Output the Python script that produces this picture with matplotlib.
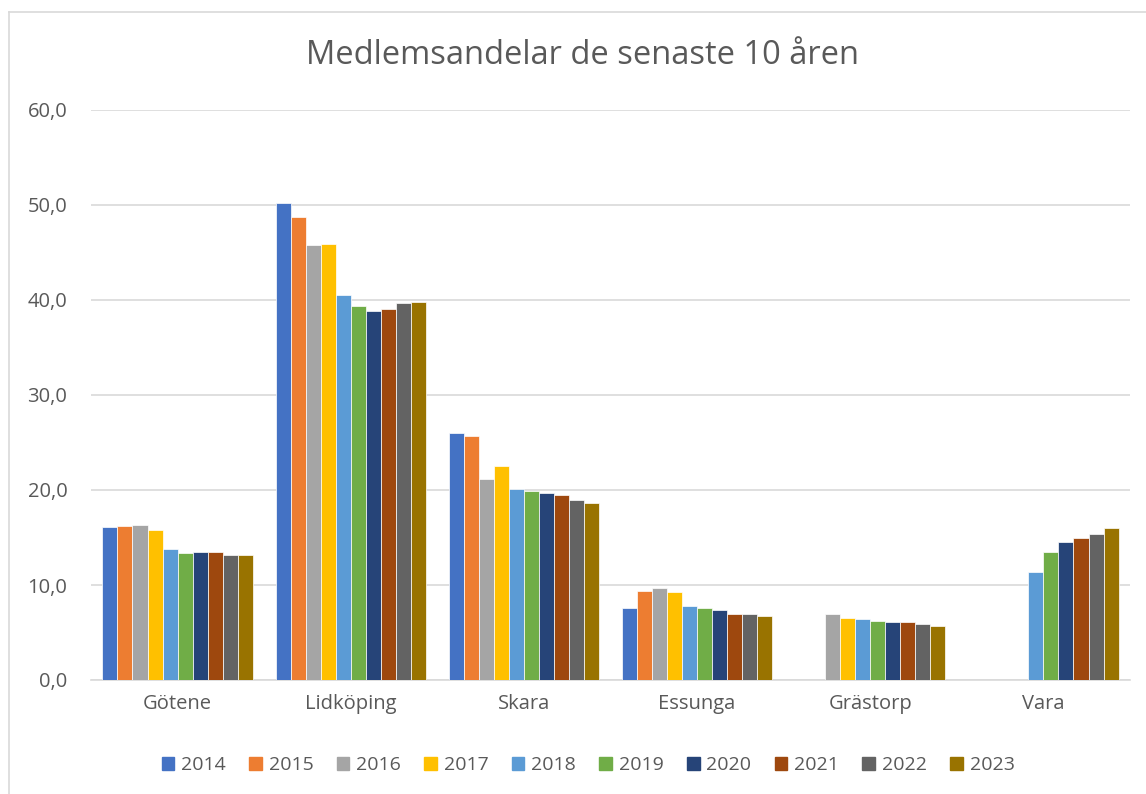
import numpy as np
import matplotlib
matplotlib.use("Agg")
import matplotlib.pyplot as plt
from matplotlib.patches import Rectangle
from matplotlib.lines import Line2D

categories = ["Götene", "Lidköping", "Skara", "Essunga", "Grästorp", "Vara"]
years = ["2014", "2015", "2016", "2017", "2018", "2019", "2020", "2021", "2022", "2023"]
nan = np.nan
v2014 = [16.1, 50.2, 26.0, 7.6, nan, nan]
v2015 = [16.2, 48.7, 25.7, 9.4, nan, nan]
v2016 = [16.3, 45.8, 21.2, 9.7, 7.0, nan]
v2017 = [15.8, 45.9, 22.5, 9.3, 6.5, nan]
v2018 = [13.8, 40.5, 20.1, 7.8, 6.4, 11.4]
v2019 = [13.4, 39.4, 19.9, 7.6, 6.2, 13.5]
v2020 = [13.5, 38.8, 19.7, 7.4, 6.1, 14.5]
v2021 = [13.5, 39.0, 19.5, 7.0, 6.1, 14.9]
v2022 = [13.2, 39.7, 19.0, 6.9, 5.9, 15.4]
v2023 = [13.2, 39.8, 18.6, 6.7, 5.7, 16.0]
series = [v2014, v2015, v2016, v2017, v2018, v2019, v2020, v2021, v2022, v2023]
colors = ["#4472C4", "#ED7D31", "#A5A5A5", "#FFC000", "#5B9BD5",
          "#70AD47", "#264478", "#9E480E", "#636363", "#997300"]

plt.rcParams['font.family'] = ['Open Sans', 'DejaVu Sans']
text_color = "#595959"

fig = plt.figure(figsize=(11.46, 7.94), dpi=100)
ax = fig.add_axes([91/1146, 1 - 680/794, (1130-91)/1146, (680-110)/794])

x = np.arange(len(categories))
bw = 0.0868
for i, (vals, c, yr) in enumerate(zip(series, colors, years)):
    offs = (i - 4.5) * bw
    ax.bar(x + offs, vals, width=bw, color=c, edgecolor="white", linewidth=0.5,
           label=yr, zorder=3)

ax.set_xlim(-0.5, 5.5)
ax.set_ylim(0, 60)
ax.set_yticks(np.arange(0, 61, 10))
ax.set_yticklabels([f"{v:.1f}".replace(".", ",") for v in np.arange(0, 61, 10)])
ax.set_xticks(x)
ax.set_xticklabels(categories)
ax.tick_params(axis="both", length=0, labelsize=14.5, colors=text_color)
ax.tick_params(axis="y", pad=17)
ax.tick_params(axis="x", pad=10)
for s in ["top", "right", "left"]:
    ax.spines[s].set_visible(False)
ax.spines["bottom"].set_color("#d9d9d9")
ax.spines["bottom"].set_linewidth(1.2)
ax.grid(axis="y", color="#d9d9d9", linewidth=1.2, zorder=0)
ax.set_axisbelow(True)

fig.text(583/1146, 1 - 55/794, "Medlemsandelar de senaste 10 åren", ha="center",
         va="center", fontsize=23.5, color=text_color)

handles = [Rectangle((0, 0), 1, 1, color=c) for c in colors]
fig.legend(handles, years, loc="center", bbox_to_anchor=(588/1146, 1 - 765/794),
           ncol=10, frameon=False, fontsize=14, labelcolor=text_color,
           handlelength=0.65, handleheight=0.65, handletextpad=0.35, columnspacing=1.2)

# outer border (top/left visible)
fig.add_artist(Line2D([8.5/1146, 8.5/1146], [0, 1 - 11.5/794], transform=fig.transFigure,
                      color="#d9d9d9", linewidth=1.2))
fig.add_artist(Line2D([8.5/1146, 1], [1 - 11.5/794, 1 - 11.5/794], transform=fig.transFigure,
                      color="#d9d9d9", linewidth=1.2))

fig.savefig("out.png", dpi=100)
